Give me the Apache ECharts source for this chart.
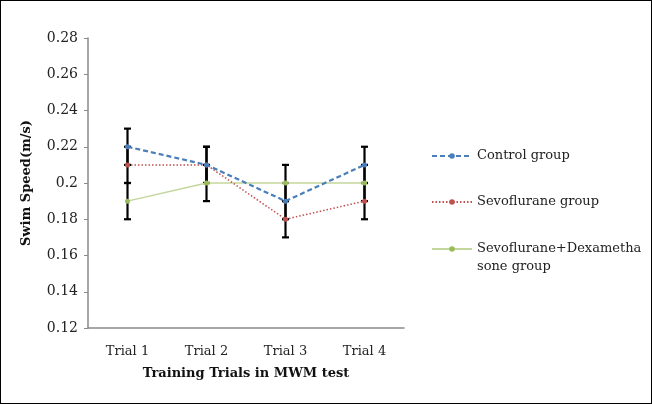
<!DOCTYPE html>
<html>
<head>
<meta charset="utf-8">
<script src="https://cdn.jsdelivr.net/npm/echarts@6/dist/echarts.min.js"></script>
<style>
html,body{margin:0;padding:0;background:#fff;}
#c{width:652px;height:404px;box-sizing:border-box;border:1.5px solid #000;}
</style>
</head>
<body>
<div id="c"></div>
<script>
const categories = ['Trial 1', 'Trial 2', 'Trial 3', 'Trial 4'];
const controlMean = [0.22, 0.21, 0.19, 0.21];
const sevoMean = [0.21, 0.21, 0.18, 0.19];
const dexMean = [0.19, 0.20, 0.20, 0.20];
const controlErr = [0.01, 0.01, 0.01, 0.01];
const sevoErr = [0.01, 0.01, 0.01, 0.01];
const dexErr = [0.01, 0.01, 0.01, 0.01];
const yTicks = [0.12, 0.14, 0.16, 0.18, 0.20, 0.22, 0.24, 0.26, 0.28];
const seriesNames = ['Control group', 'Sevoflurane group', 'Sevoflurane+Dexametha\nsone group'];

const errData = [];
[[controlMean, controlErr], [sevoMean, sevoErr], [dexMean, dexErr]].forEach(function (p) {
  p[0].forEach(function (m, i) {
    errData.push([i, +(m - p[1][i]).toFixed(4), +(m + p[1][i]).toFixed(4)]);
  });
});

const font = 'DejaVu Serif';
const chart = echarts.init(document.getElementById('c'), null, {renderer: 'canvas'});

function legendFor(name, top, extra) {
  return Object.assign({
    data: [name],
    orient: 'vertical',
    left: 425,
    top: top,
    itemWidth: 40,
    itemHeight: 7,
    itemGap: 0,
    selectedMode: false,
    textStyle: {fontFamily: font, fontSize: 13, color: '#222', lineHeight: 18}
  }, extra || {});
}

chart.setOption({
  animation: false,
  grid: {left: 87, right: 247, top: 37, bottom: 75},
  legend: [
    legendFor(seriesNames[0], 141),
    legendFor(seriesNames[1], 187),
    legendFor(seriesNames[2], 216, {formatter: function (n) { return '\n' + n; }})
  ],
  xAxis: {
    type: 'category',
    data: categories,
    boundaryGap: true,
    axisLine: {lineStyle: {color: '#8a8a8a', width: 1.5}},
    axisTick: {show: false},
    axisLabel: {fontFamily: font, fontSize: 13, color: '#222', margin: 17},
    name: 'Training Trials in MWM test',
    nameLocation: 'middle',
    nameGap: 39,
    nameTextStyle: {fontFamily: font, fontSize: 13, fontWeight: 'bold', color: '#111'}
  },
  yAxis: {
    type: 'value',
    min: yTicks[0],
    max: yTicks[yTicks.length - 1],
    interval: 0.02,
    axisLine: {show: true, lineStyle: {color: '#8a8a8a', width: 1.5}},
    axisTick: {show: true, length: 4, lineStyle: {color: '#8a8a8a'}},
    splitLine: {show: false},
    axisLabel: {fontFamily: font, fontSize: 14, color: '#222', margin: 10,
      formatter: function (v) { return String(+v.toFixed(2)); }},
    name: 'Swim Speed(m/s)',
    nameLocation: 'middle',
    nameGap: 55,
    nameTextStyle: {fontFamily: font, fontSize: 13, fontWeight: 'bold', color: '#111'}
  },
  series: [
    {
      type: 'custom',
      name: 'err',
      data: errData,
      encode: {x: 0, y: [1, 2]},
      z: 1,
      renderItem: function (params, api) {
        const i = api.value(0);
        const lo = api.coord([i, api.value(1)]);
        const hi = api.coord([i, api.value(2)]);
        const w = 3.5;
        const st = {stroke: '#000', lineWidth: 2.2};
        return {
          type: 'group',
          children: [
            {type: 'line', shape: {x1: lo[0], y1: lo[1], x2: hi[0], y2: hi[1]}, style: st},
            {type: 'line', shape: {x1: lo[0] - w, y1: lo[1], x2: lo[0] + w, y2: lo[1]}, style: st},
            {type: 'line', shape: {x1: hi[0] - w, y1: hi[1], x2: hi[0] + w, y2: hi[1]}, style: st}
          ]
        };
      }
    },
    {
      type: 'line',
      name: seriesNames[2],
      data: dexMean,
      z: 3,
      symbol: 'circle',
      symbolSize: 5,
      itemStyle: {color: '#9bbb59'},
      lineStyle: {color: '#c3d69b', width: 1.5, type: 'solid'}
    },
    {
      type: 'line',
      name: seriesNames[1],
      data: sevoMean,
      z: 4,
      symbol: 'circle',
      symbolSize: 5,
      itemStyle: {color: '#c0504d'},
      lineStyle: {color: '#c0504d', width: 1.5, type: [1.5, 2]}
    },
    {
      type: 'line',
      name: seriesNames[0],
      data: controlMean,
      z: 5,
      symbol: 'circle',
      symbolSize: 5,
      itemStyle: {color: '#4a7ebb'},
      lineStyle: {color: '#4a7ebb', width: 2.2, type: [5, 3]}
    }
  ]
});
</script>
</body>
</html>
